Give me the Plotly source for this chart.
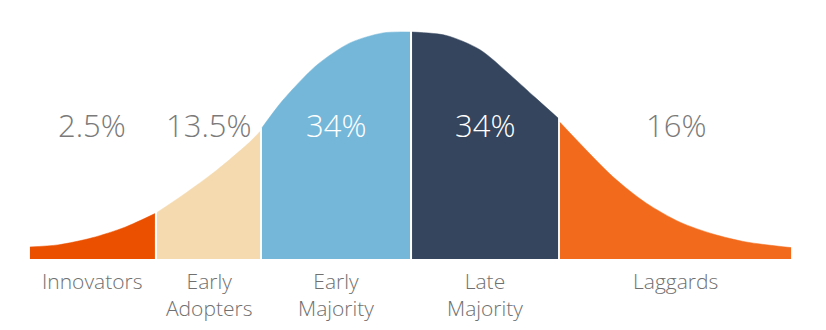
import plotly.graph_objects as go

# ---- data ----
categories = ["Innovators", "Early<br>Adopters", "Early<br>Majority", "Late<br>Majority", "Laggards"]
shares = ["2.5%", "13.5%", "34%", "34%", "16%"]
colors = ["#EB5000", "#F5DAAF", "#75B7D9", "#34455D", "#F26B1D"]
share_text_colors = ["#7A7A7A", "#7A7A7A", "#FFFFFF", "#FFFFFF", "#7A7A7A"]

# curve outline for each segment: position (in std. deviations from the mean) and relative height
seg_x = [
    [-2.603, -2.411, -2.178, -1.952, -1.747],
    [-1.733, -1.555, -1.322, -1.096, -1.027],
    [-1.014, -0.870, -0.637, -0.411, -0.185, 0.0],
    [0.014, 0.247, 0.479, 0.705, 0.856, 1.014],
    [1.027, 1.390, 1.616, 1.849, 2.075, 2.301, 2.610],
]
seg_y = [
    [0.053, 0.062, 0.093, 0.140, 0.200],
    [0.205, 0.282, 0.392, 0.516, 0.562],
    [0.578, 0.700, 0.855, 0.952, 0.996, 1.0],
    [1.0, 0.985, 0.922, 0.800, 0.712, 0.621],
    [0.602, 0.362, 0.247, 0.162, 0.110, 0.075, 0.050],
]

FONT = "Century Gothic, Open Sans, sans-serif"

fig = go.Figure()
for xs, ys, c in zip(seg_x, seg_y, colors):
    fig.add_trace(go.Scatter(
        x=xs, y=ys, mode="lines", fill="tozeroy",
        line=dict(color=c, width=0.5, shape="spline", smoothing=0.8),
        fillcolor=c, hoverinfo="skip", showlegend=False,
    ))

annotations = []
for xs, cat, share, tc in zip(seg_x, categories, shares, share_text_colors):
    mid = (xs[0] + xs[-1]) / 2
    annotations.append(dict(
        x=mid, y=0.59, xref="x", yref="y", text=share, showarrow=False,
        xanchor="center", yanchor="middle",
        font=dict(family=FONT, size=31, color=tc, weight=300),
    ))
    annotations.append(dict(
        x=mid, y=-0.025, xref="x", yref="y", text=cat, showarrow=False,
        xanchor="center", yanchor="top", align="center",
        font=dict(family=FONT, size=21, color="#707070", weight=300),
    ))

fig.update_layout(
    width=826, height=330,
    margin=dict(l=0, r=0, t=0, b=0),
    paper_bgcolor="white", plot_bgcolor="white",
    xaxis=dict(range=[-2.808, 2.849], visible=False, fixedrange=True),
    yaxis=dict(range=[-0.313, 1.141], visible=False, fixedrange=True),
    annotations=annotations,
    showlegend=False,
)

fig.write_html("out.html", config={"displayModeBar": False})
